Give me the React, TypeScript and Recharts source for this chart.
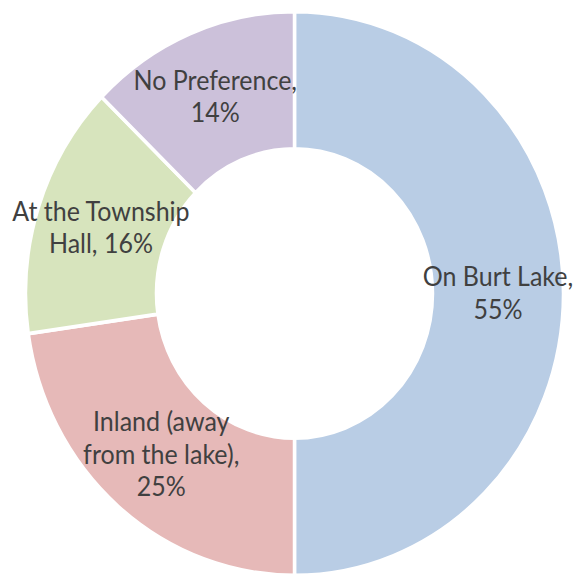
import React from "react";
import { PieChart, Pie, Cell } from "recharts";

const categories = ["On Burt Lake", "Inland (away from the lake)", "At the Township Hall", "No Preference"];
const values = [55, 25, 16, 14];
const labelLines = [
  ["On Burt Lake,", "55%"],
  ["Inland (away", "from the lake),", "25%"],
  ["At the Township", "Hall, 16%"],
  ["No Preference,", "14%"],
];
const colors = ["#B9CDE5", "#E6B9B8", "#D7E4BD", "#CCC1DA"];

const data = categories.map((name, i) => ({ name, value: values[i] }));

const RADIAN = Math.PI / 180;
const FONT = 25;
const LINE = 31;

const renderLabel = (props: any) => {
  const { cx, cy, midAngle, innerRadius, outerRadius, index } = props;
  const r = (innerRadius + outerRadius) / 2;
  const x = cx + r * Math.cos(-midAngle * RADIAN);
  const y = cy + r * Math.sin(-midAngle * RADIAN);
  const lines = labelLines[index];
  const startY = y - ((lines.length - 1) * LINE) / 2 + FONT * 0.35;
  return (
    <text
      x={x}
      y={startY}
      textAnchor="middle"
      fill="#404040"
      fontSize={FONT}
      fontFamily="Lato, 'Noto Sans', sans-serif"
    >
      {lines.map((l, i) => (
        <tspan key={i} x={x} y={startY + i * LINE}>
          {l}
        </tspan>
      ))}
    </text>
  );
};

export default function App() {
  return (
    <div
      style={{
        position: "absolute",
        left: 0,
        top: 0,
        width: 573,
        height: 576,
        background: "#fff",
        transform: "scaleY(1.048)",
        transformOrigin: "0px 293.5px",
      }}
    >
      <PieChart width={573} height={576} margin={{ top: 0, right: 0, bottom: 0, left: 0 }}>
        <Pie
          data={data}
          dataKey="value"
          nameKey="name"
          cx={294.5}
          cy={293.5}
          innerRadius={138}
          outerRadius={269}
          startAngle={90}
          endAngle={-270}
          stroke="#ffffff"
          strokeWidth={3.5}
          label={renderLabel}
          labelLine={false}
          isAnimationActive={false}
        >
          {data.map((d, i) => (
            <Cell key={d.name} fill={colors[i]} />
          ))}
        </Pie>
      </PieChart>
    </div>
  );
}
